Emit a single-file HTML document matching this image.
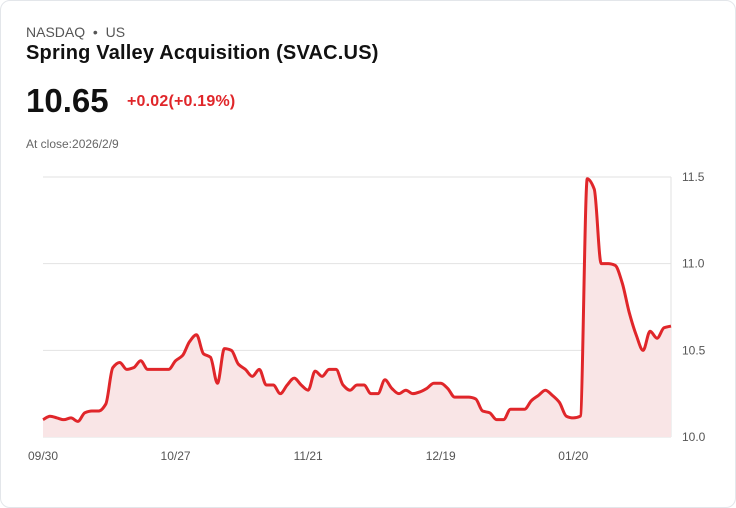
<!DOCTYPE html>
<html><head><meta charset="utf-8"><style>
body{margin:0;background:#fff;font-family:"Liberation Sans",sans-serif;}
.card{position:absolute;left:0;top:0;width:734px;height:506px;border:1px solid #e3e6ea;border-radius:10px;background:#fff;}
.t{position:absolute;white-space:nowrap;}
</style></head><body>
<div class="card">
<div class="t" style="left:25px;top:23px;font-size:14px;color:#555;">NASDAQ &nbsp;•&nbsp; US</div>
<div class="t" style="left:25px;top:41px;font-size:20px;font-weight:bold;color:#111;letter-spacing:0.2px">Spring Valley Acquisition (SVAC.US)</div>
<div class="t" style="left:25px;top:81px;font-size:33px;font-weight:bold;color:#111;">10.65</div>
<div class="t" style="left:126px;top:92px;font-size:16px;font-weight:bold;color:#e0262a;letter-spacing:0.2px">+0.02(+0.19%)</div>
<div class="t" style="left:25px;top:136px;font-size:12px;color:#666;">At close:2026/2/9</div>
<svg id="chart" width="736" height="508" style="position:absolute;left:-1px;top:-1px"></svg>
</div>
<script>
const vals=[10.10,10.12,10.11,10.10,10.11,10.09,10.14,10.15,10.15,10.19,10.40,10.43,10.39,10.40,10.44,10.39,10.39,10.39,10.39,10.44,10.47,10.55,10.59,10.48,10.46,10.31,10.51,10.50,10.42,10.39,10.35,10.39,10.30,10.30,10.25,10.30,10.34,10.30,10.27,10.38,10.35,10.39,10.39,10.30,10.27,10.30,10.30,10.25,10.25,10.33,10.28,10.25,10.27,10.25,10.26,10.28,10.31,10.31,10.28,10.23,10.23,10.23,10.22,10.15,10.14,10.10,10.10,10.16,10.16,10.16,10.21,10.24,10.27,10.24,10.20,10.12,10.11,10.12,11.49,11.43,11.00,11.00,10.99,10.89,10.72,10.59,10.50,10.61,10.57,10.63,10.64];
const xLabels=["09/30","10/27","11/21","12/19","01/20"];
const xLabelIdx=[0,19,38,57,76];
const yTicks=[10.0,10.5,11.0,11.5];
const svg=document.getElementById('chart');const NS='http://www.w3.org/2000/svg';
const x0=43,x1=671,yb=437,yt=177,vmin=10,vmax=11.5;
const X=i=>x0+(x1-x0)*i/(vals.length-1);
const Y=v=>yb-(v-vmin)/(vmax-vmin)*(yb-yt);
function el(t,a){const e=document.createElementNS(NS,t);for(const k in a)e.setAttribute(k,a[k]);svg.appendChild(e);return e;}
yTicks.forEach(v=>{
 const l=el('line',{x1:x0,x2:x1,y1:Y(v),y2:Y(v),stroke:'#e2e2e2','stroke-width':1});
 
 
 const t=el('text',{x:682,y:Y(v)+4,'font-size':12,fill:'#555','font-family':'Liberation Sans'});t.textContent=v.toFixed(1);
 
 
});
const ax=el('line',{x1:x1,x2:x1,y1:yt,y2:yb,stroke:'#e2e2e2'});


xLabels.forEach((s,k)=>{const t=el('text',{x:X(xLabelIdx[k]),y:460,'font-size':12,fill:'#555','text-anchor':'middle','font-family':'Liberation Sans'});t.textContent=s;
 
 });
const P=vals.map((v,i)=>[X(i),Y(v)]);
const n=P.length,h=P[1][0]-P[0][0];
const dl=[];for(let i=0;i<n-1;i++)dl.push((P[i+1][1]-P[i][1])/h);
const m=[];for(let i=0;i<n;i++){if(i==0)m.push(dl[0]);else if(i==n-1)m.push(dl[n-2]);else{const a=dl[i-1],b=dl[i];m.push(a*b<=0?0:2/(1/a+1/b));}}
let d='M'+P[0][0]+','+P[0][1];
for(let i=0;i<n-1;i++){const p1=P[i],p2=P[i+1];
 d+=` C${p1[0]+h/3},${p1[1]+m[i]*h/3} ${p2[0]-h/3},${p2[1]-m[i+1]*h/3} ${p2[0]},${p2[1]}`;}
const a=el('path',{d:d+` L${x1},${yb} L${x0},${yb} Z`,fill:'#f9e5e6'});


const ln=el('path',{d:d,fill:'none',stroke:'#e0262a','stroke-width':3,'stroke-linejoin':'round'});


</script>
</body></html>
